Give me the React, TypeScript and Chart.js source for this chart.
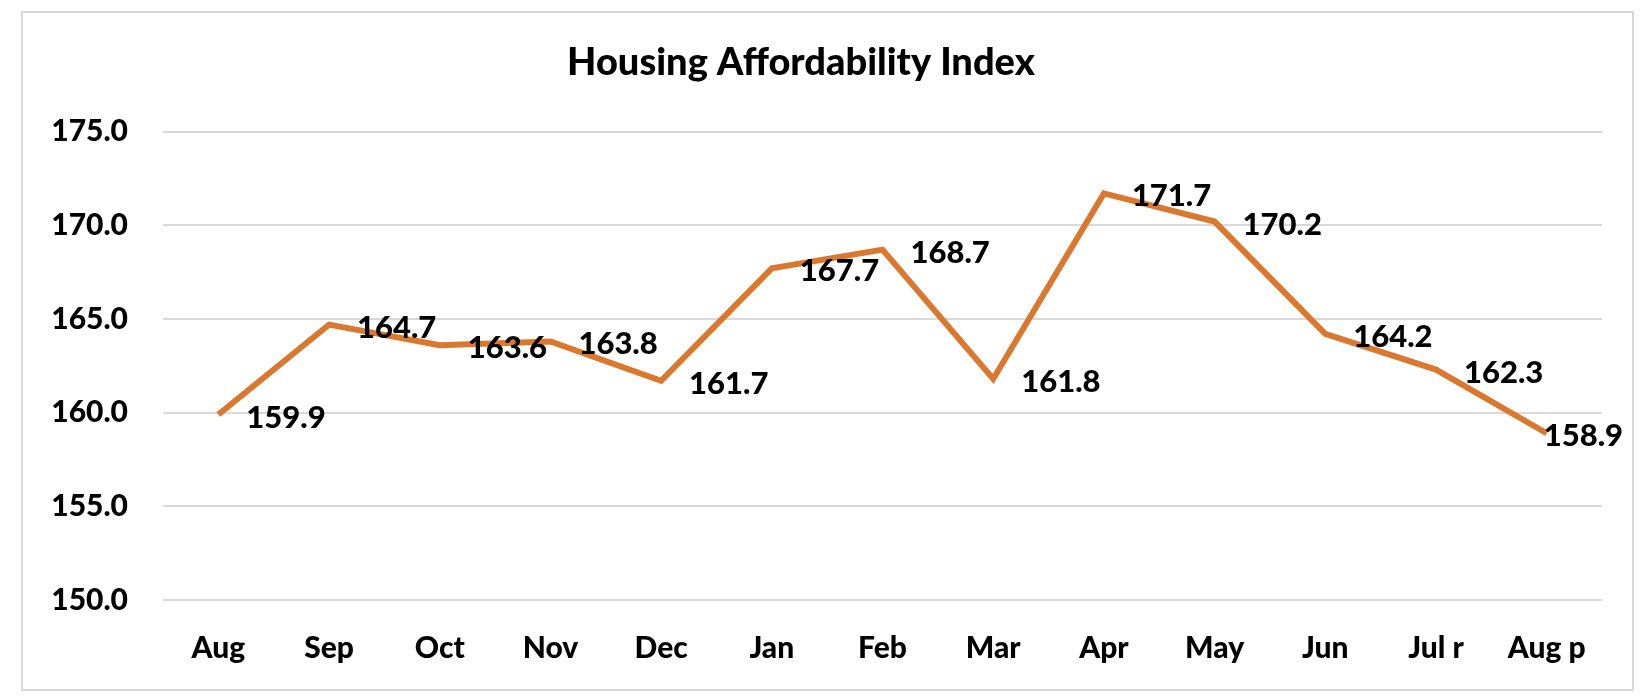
import React, { useEffect, useRef } from "react";
import { Chart, registerables } from "chart.js";

Chart.register(...registerables);

const categories = ["Aug", "Sep", "Oct", "Nov", "Dec", "Jan", "Feb", "Mar", "Apr", "May", "Jun", "Jul r", "Aug p"];
const indexValues = [159.9, 164.7, 163.6, 163.8, 161.7, 167.7, 168.7, 161.8, 171.7, 170.2, 164.2, 162.3, 158.9];
const chartTitle = "Housing Affordability Index";
const yMin = 150;
const yMax = 175;
const yStep = 5;

const FONT = "Lato, 'Open Sans', sans-serif";
const WEIGHT = "900";

const labelPlugin = {
  id: "pointLabels",
  afterDatasetsDraw(chart: any) {
    const ctx = chart.ctx;
    const meta = chart.getDatasetMeta(0);
    const data = chart.data.datasets[0].data;
    ctx.save();
    ctx.font = `${WEIGHT} 31px ${FONT}`;
    ctx.fillStyle = "#000000";
    ctx.textAlign = "left";
    ctx.textBaseline = "middle";
    meta.data.forEach((pt: any, i: number) => {
      const txt = Number(data[i]).toFixed(1);
      const w = ctx.measureText(txt).width;
      let x = pt.x + 28;
      const limit = chart.width - 29;
      if (x + w > limit) x = limit - w;
      ctx.fillText(txt, x, pt.y + 3);
    });
    ctx.restore();
  },
};

export default function App() {
  const ref = useRef<HTMLCanvasElement | null>(null);
  useEffect(() => {
    if (!ref.current) return;
    const chart = new Chart(ref.current, {
      type: "line",
      data: {
        labels: categories,
        datasets: [
          {
            data: indexValues,
            borderColor: "#D9782E",
            borderWidth: 6,
            pointRadius: 0,
            tension: 0,
            fill: false,
          },
        ],
      },
      options: {
        animation: false,
        responsive: false,
        devicePixelRatio: 1,
        layout: { padding: { left: 0, right: 50, top: 0, bottom: 0 } },
        plugins: {
          legend: { display: false },
          tooltip: { enabled: false },
          title: {
            display: true,
            text: chartTitle,
            color: "#000000",
            font: { family: FONT, size: 38, weight: WEIGHT as any },
            padding: { top: 40, bottom: 46 },
          },
        },
        scales: {
          x: {
            offset: true,
            grid: { display: false, drawTicks: false },
            border: { display: false },
            ticks: {
              color: "#000000",
              font: { family: FONT, size: 30, weight: WEIGHT as any },
              padding: 30,
              maxRotation: 0,
              autoSkip: false,
            },
            afterFit: (s: any) => {
              s.height = 100;
            },
          },
          y: {
            min: yMin,
            max: yMax,
            ticks: {
              stepSize: yStep,
              color: "#000000",
              font: { family: FONT, size: 30, weight: WEIGHT as any },
              padding: 35,
              callback: (v: any) => Number(v).toFixed(1),
            },
            grid: { color: "#D9D9D9", lineWidth: 2, drawTicks: false },
            border: { display: false },
            afterFit: (s: any) => {
              s.width = 163;
            },
          },
        },
      },
      plugins: [labelPlugin],
    });
    return () => chart.destroy();
  }, []);

  return (
    <div style={{ position: "absolute", left: 0, top: 0, width: 1652, height: 700, background: "#ffffff" }}>
      <canvas ref={ref} width={1652} height={700} style={{ position: "absolute", left: 0, top: 0 }} />
      <div
        style={{
          position: "absolute",
          left: 21,
          top: 11,
          width: 1613,
          height: 680,
          boxSizing: "border-box",
          border: "2px solid #D9D9D9",
          pointerEvents: "none",
        }}
      />
    </div>
  );
}
